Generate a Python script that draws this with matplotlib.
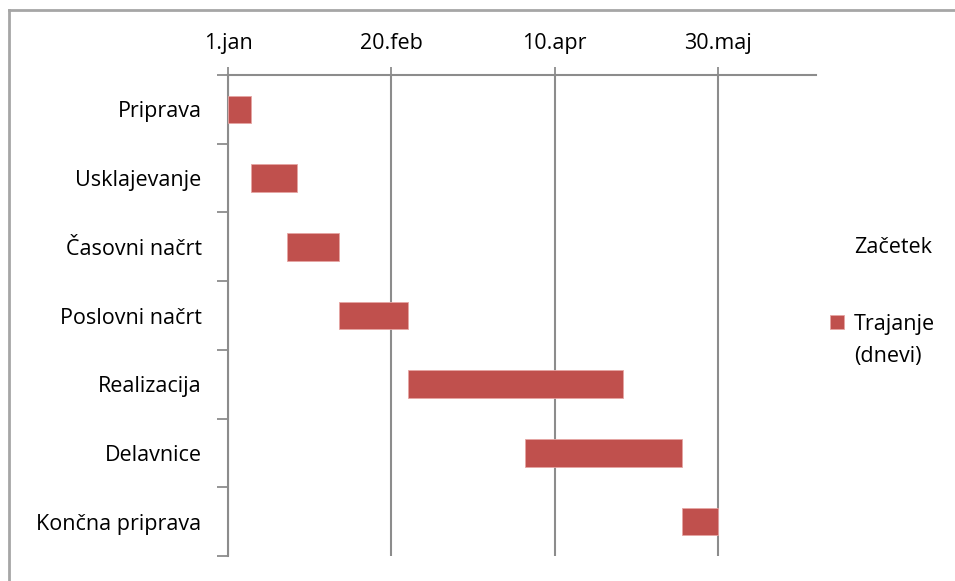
import matplotlib
matplotlib.use("Agg")
import matplotlib.pyplot as plt
import matplotlib.dates as mdates
from matplotlib.lines import Line2D
import pandas as pd
import numpy as np

# gantt data
tasks = ['Priprava', 'Usklajevanje', 'Časovni načrt', 'Poslovni načrt',
         'Realizacija', 'Delavnice', 'Končna priprava']
start_dates = ['2012-01-01', '2012-01-08', '2012-01-19', '2012-02-04',
               '2012-02-25', '2012-04-01', '2012-05-19']
duration_days = [7, 14, 16, 21, 66, 48, 11]

tick_dates = ['2012-01-01', '2012-02-20', '2012-04-10', '2012-05-30']
tick_labels = ['1.jan', '20.feb', '10.apr', '30.maj']
axis_min = '2012-01-01'
axis_max = '2012-06-29'

fs = 15.5
plt.rcParams['font.family'] = ['Open Sans', 'DejaVu Sans']
plt.rcParams['font.size'] = fs

grey = '#8c8c8c'
red = '#c0504d'

fig = plt.figure(figsize=(9.55, 5.81), dpi=100)
ax = fig.add_axes([0.2387, 0.0430, 0.8545 - 0.2387, 0.8709 - 0.0430])

starts = mdates.date2num(pd.to_datetime(start_dates))
x0 = mdates.date2num(pd.to_datetime(axis_min))
x1 = mdates.date2num(pd.to_datetime(axis_max))
y = np.arange(len(tasks))

# invisible start series, like the excel trick
b1 = ax.barh(y, starts - x0, left=x0, height=0.4, color='none',
             edgecolor='none', label='Začetek')
b2 = ax.barh(y, duration_days, left=starts, height=0.4, color=red,
             edgecolor='#e6a5a3', linewidth=0.6, label='Trajanje',
             zorder=3)

ax.set_xlim(x0, x1)
ax.set_ylim(len(tasks) - 0.5, -0.5)

ax.xaxis.tick_top()
ax.set_xticks(mdates.date2num(pd.to_datetime(tick_dates)))
ax.set_xticklabels(tick_labels)
ax.tick_params(axis='x', direction='out', length=6, width=1.3, color=grey,
               pad=9)
ax.grid(axis='x', color=grey, linewidth=1.5, zorder=1)
ax.set_axisbelow(True)

ax.set_yticks(y)
ax.set_yticklabels(tasks)
ax.set_yticks(np.arange(-0.5, len(tasks)), minor=True)
ax.tick_params(axis='y', which='major', length=0, pad=19)
ax.tick_params(axis='y', which='minor', direction='out', length=8,
               width=1.3, color=grey)

for s in ['right', 'bottom']:
    ax.spines[s].set_visible(False)
ax.spines['top'].set_color(grey)
ax.spines['left'].set_color(grey)
ax.spines['top'].set_linewidth(1.5)
ax.spines['left'].set_linewidth(1.5)

leg = fig.legend(handles=[b1, b2], loc='upper left',
                 bbox_to_anchor=(0.858, 1 - 226 / 581), frameon=False,
                 handlelength=0.65, handleheight=0.65, handletextpad=0.45,
                 labelspacing=2.6, fontsize=fs, borderpad=0)

# second line of the wrapped legend label, under "Trajanje"
fig.canvas.draw()
t = leg.get_texts()[1]
bb = t.get_window_extent().transformed(fig.transFigure.inverted())
fig.text(bb.x0, bb.y0 - 11 / 581, '(dnevi)', fontsize=fs, va='top',
         ha='left')

# outer chart border (only top and left visible in the crop)
fig.add_artist(Line2D([9 / 955, 9 / 955], [0, 1 - 10 / 581],
                      transform=fig.transFigure, color='#a6a6a6', lw=2))
fig.add_artist(Line2D([9 / 955, 1], [1 - 10 / 581, 1 - 10 / 581],
                      transform=fig.transFigure, color='#a6a6a6', lw=2))

plt.savefig('out.png', dpi=100)
